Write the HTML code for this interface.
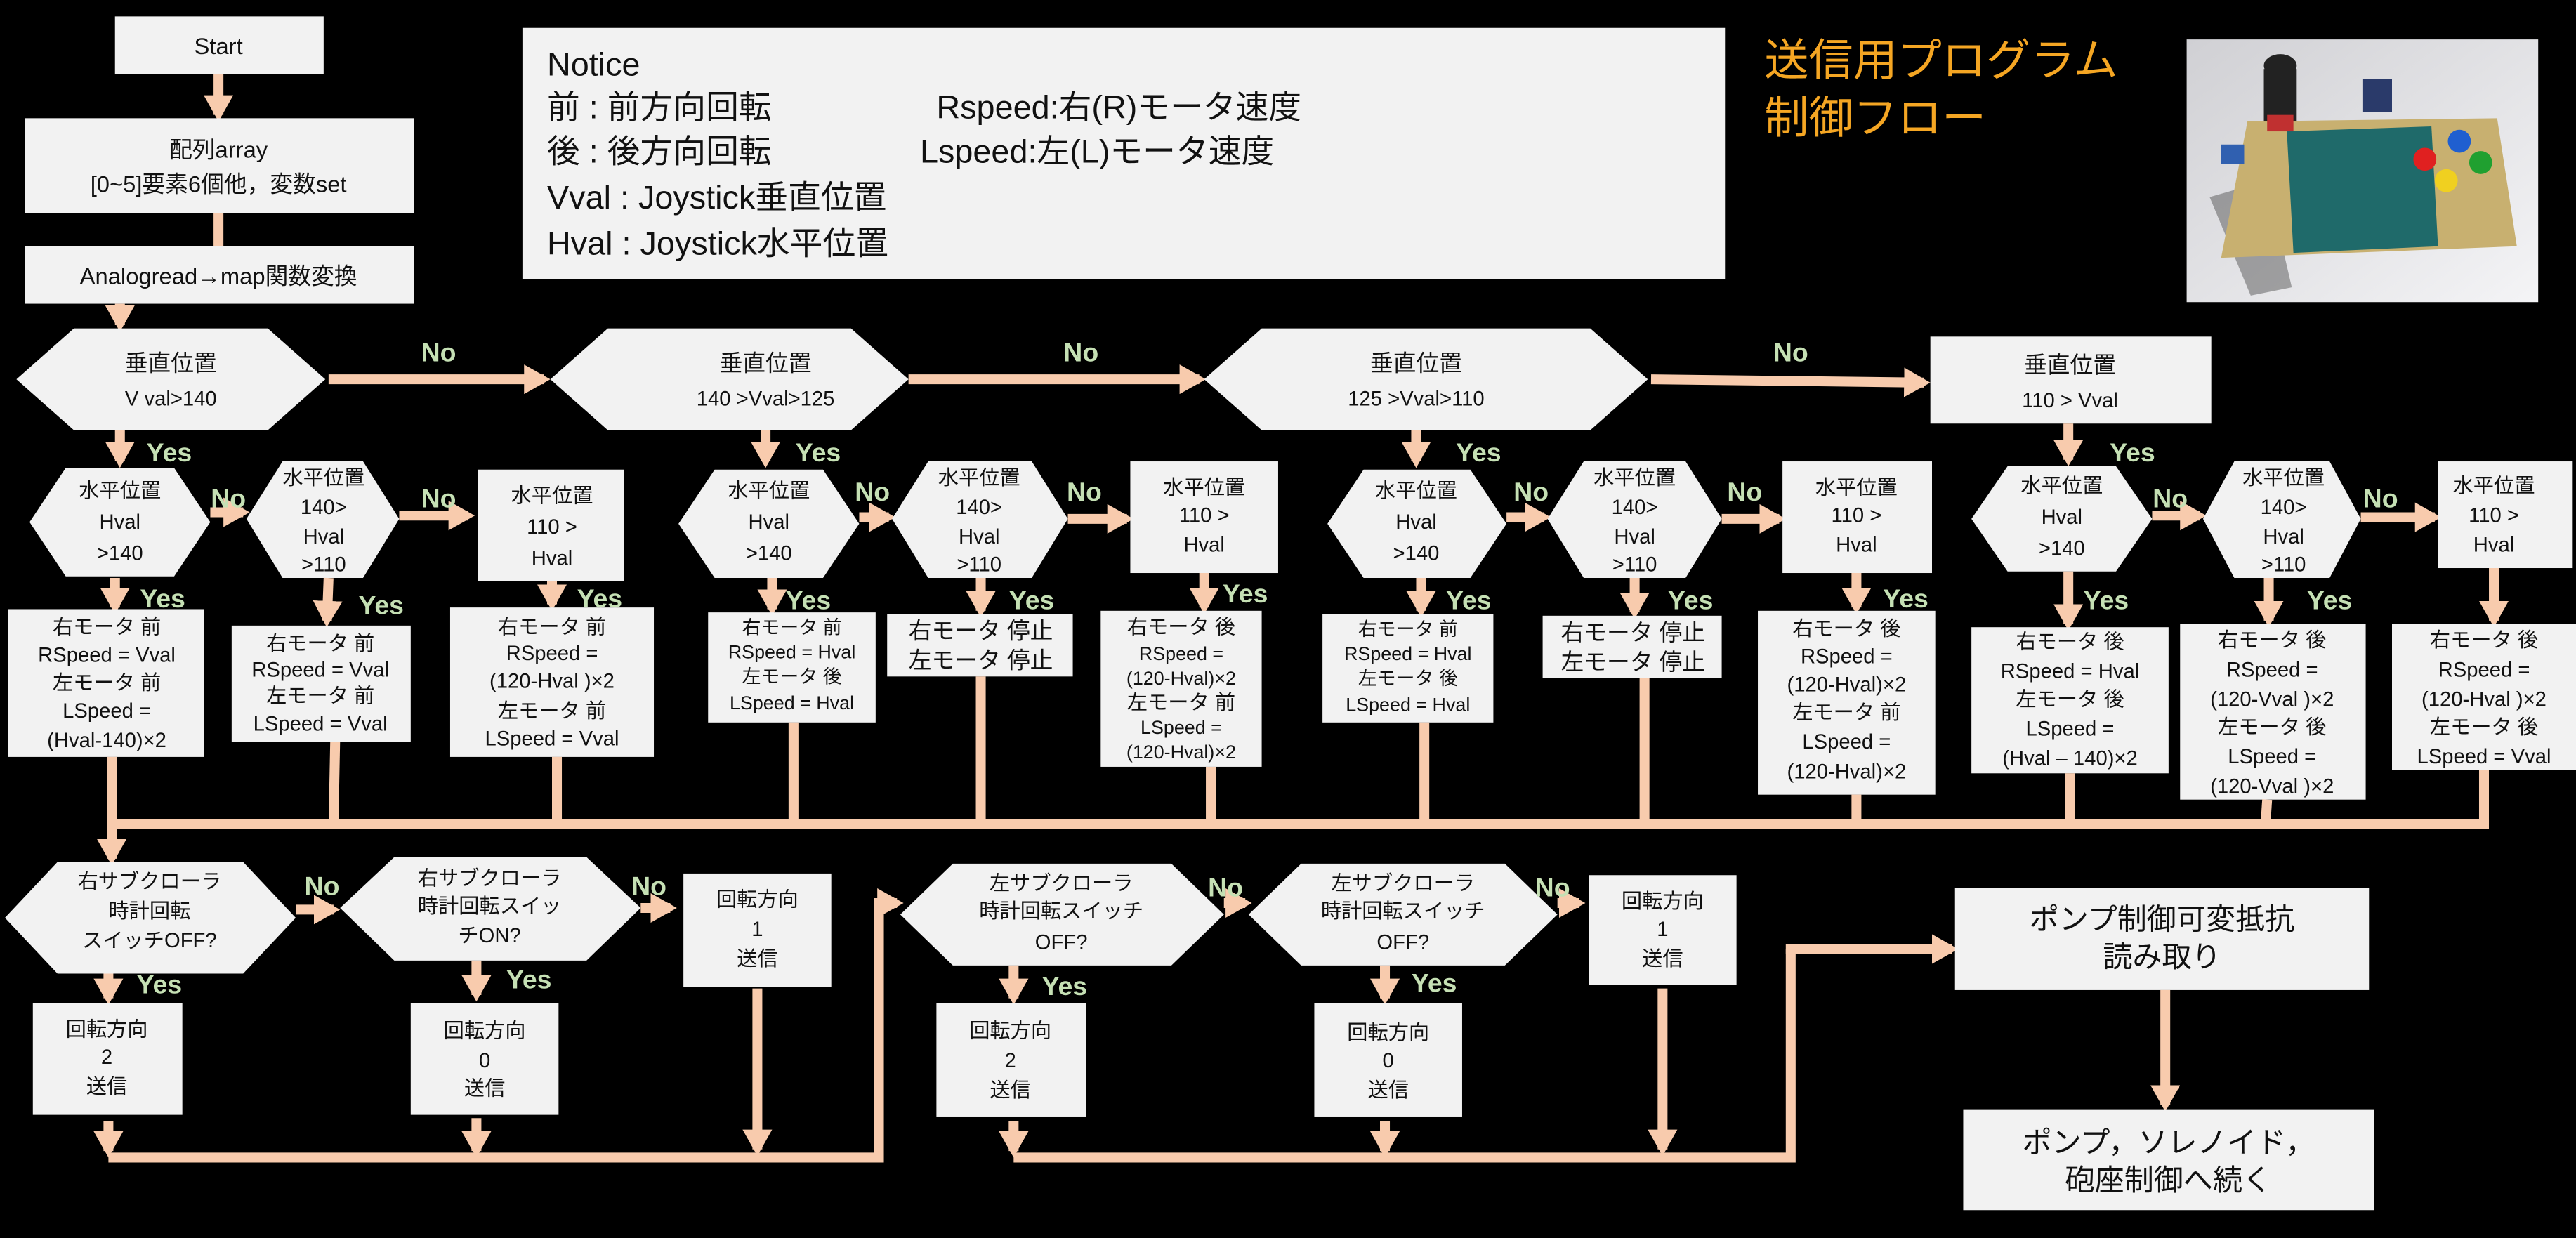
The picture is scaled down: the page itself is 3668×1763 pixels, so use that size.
<!DOCTYPE html>
<html><head><meta charset="utf-8"><style>
html,body{margin:0;padding:0;background:#000;}
svg{display:block;}
text{font-family:"Liberation Sans","Noto Sans CJK JP",sans-serif;fill:#111;}
.yn{font-weight:bold;fill:#c5e0b4;font-size:16px;}
.b{fill:#f2f2f2;}
.l{stroke:#f8cbad;stroke-width:6;fill:none;}
.la{stroke:#f8cbad;stroke-width:6;fill:none;marker-end:url(#a);}
.t13{font-size:12.5px;}
.t14{font-size:14px;}
</style></head><body>
<svg width="3668" height="1763" viewBox="0 0 1568 754" preserveAspectRatio="none" xmlns="http://www.w3.org/2000/svg">
<defs>
<marker id="a" markerWidth="20" markerHeight="20" refX="12" refY="9" orient="auto" markerUnits="userSpaceOnUse"><path d="M0,0 L16,9 L0,18 Z" fill="#f8cbad"/></marker>
<linearGradient id="pg" x1="0" y1="0" x2="1" y2="1"><stop offset="0" stop-color="#d0d0d4"/><stop offset="1" stop-color="#f4f4f6"/></linearGradient>
</defs>
<rect width="1568" height="754" fill="#000"/>

<!-- top boxes -->
<rect class="b" x="70" y="10" width="127" height="35"/>
<text x="133" y="33" text-anchor="middle" class="t14">Start</text>
<line class="la" x1="133" y1="45" x2="133" y2="70"/>
<rect class="b" x="15" y="72" width="237" height="58"/>
<text x="133" y="96" text-anchor="middle" class="t14">配列array</text>
<text x="133" y="117" text-anchor="middle" class="t14">[0~5]要素6個他，変数set</text>
<line class="l" x1="133" y1="130" x2="133" y2="150"/>
<rect class="b" x="15" y="150" width="237" height="35"/>
<text x="133" y="173" text-anchor="middle" class="t14">Analogread→map関数変換</text>
<line class="la" x1="73" y1="185" x2="73" y2="198"/>

<!-- notice -->
<rect class="b" x="318" y="17" width="732" height="153"/>
<text x="333" y="46" style="font-size:20px">Notice</text>
<text x="333" y="72" style="font-size:20px">前 : 前方向回転</text>
<text x="570" y="72" style="font-size:20px">Rspeed:右(R)モータ速度</text>
<text x="333" y="99" style="font-size:20px">後 : 後方向回転</text>
<text x="560" y="99" style="font-size:20px">Lspeed:左(L)モータ速度</text>
<text x="333" y="127" style="font-size:20px">Vval : Joystick垂直位置</text>
<text x="333" y="155" style="font-size:20px">Hval : Joystick水平位置</text>
<text x="1074" y="46" style="font-size:27px;fill:#f5a623">送信用プログラム</text>
<text x="1074" y="81" style="font-size:27px;fill:#f5a623">制御フロー</text>

<!-- photo -->
<rect x="1331" y="24" width="214" height="160" fill="url(#pg)"/>
<polygon points="1345,120 1370,180 1395,175 1380,110" fill="#555" opacity="0.5"/>
<polygon points="1368,74 1520,72 1532,150 1352,157" fill="#c8b070"/>
<polygon points="1392,80 1480,77 1484,150 1396,154" fill="#1f6a6a"/>
<ellipse cx="1388" cy="40" rx="10" ry="7" fill="#222"/>
<rect x="1378" y="42" width="20" height="32" fill="#222"/>
<rect x="1380" y="70" width="16" height="10" fill="#c03030"/>
<rect x="1438" y="48" width="18" height="20" fill="#2a3a6a"/>
<circle cx="1497" cy="86" r="7" fill="#1f5fd0"/>
<circle cx="1476" cy="97" r="7" fill="#e02020"/>
<circle cx="1510" cy="99" r="7" fill="#20a030"/>
<circle cx="1489" cy="110" r="7" fill="#f0d020"/>
<rect x="1352" y="88" width="14" height="12" fill="#3060b0"/>

<!-- row1 -->
<polygon class="b" points="45,200 163,200 198,231 163,262 45,262 10,231"/>
<text x="104" y="226" text-anchor="middle" class="t14">垂直位置</text>
<text x="104" y="247" text-anchor="middle" class="t13">V val&gt;140</text>
<line class="la" x1="200" y1="231" x2="331" y2="231"/>
<text x="267" y="220" text-anchor="middle" class="yn">No</text>
<polygon class="b" points="370,200 518,200 553,231 518,262 370,262 335,231"/>
<text x="466" y="226" text-anchor="middle" class="t14">垂直位置</text>
<text x="466" y="247" text-anchor="middle" class="t13">140 &gt;Vval&gt;125</text>
<line class="la" x1="553" y1="231" x2="730" y2="231"/>
<text x="658" y="220" text-anchor="middle" class="yn">No</text>
<polygon class="b" points="768,200 968,200 1003,231 968,262 768,262 733,231"/>
<text x="862" y="226" text-anchor="middle" class="t14">垂直位置</text>
<text x="862" y="247" text-anchor="middle" class="t13">125 &gt;Vval&gt;110</text>
<line class="la" x1="1005" y1="231" x2="1171" y2="233"/>
<text x="1090" y="220" text-anchor="middle" class="yn">No</text>
<rect class="b" x="1175" y="205" width="171" height="53"/>
<text x="1260" y="227" text-anchor="middle" class="t14">垂直位置</text>
<text x="1260" y="248" text-anchor="middle" class="t13">110 &gt; Vval</text>

<!-- yes down from row1 -->
<line class="la" x1="73" y1="262" x2="73" y2="281"/><text x="103" y="281" text-anchor="middle" class="yn">Yes</text>
<line class="la" x1="466" y1="262" x2="466" y2="281"/><text x="498" y="281" text-anchor="middle" class="yn">Yes</text>
<line class="la" x1="862" y1="262" x2="862" y2="281"/><text x="900" y="281" text-anchor="middle" class="yn">Yes</text>
<line class="la" x1="1259" y1="258" x2="1259" y2="280"/><text x="1298" y="281" text-anchor="middle" class="yn">Yes</text>

<g class="t13">
<!-- G1 -->
<polygon class="b" points="40,285 106,285 128,318 106,351 40,351 18,318"/>
<text x="73" y="303" text-anchor="middle">水平位置</text><text x="73" y="322" text-anchor="middle">Hval</text><text x="73" y="341" text-anchor="middle">&gt;140</text>
<line class="la" x1="128" y1="312" x2="148" y2="312"/><text x="139" y="309" text-anchor="middle" class="yn">No</text>
<polygon class="b" points="172,281 221,281 243,316 221,352 172,352 150,316"/>
<text x="197" y="295" text-anchor="middle">水平位置</text><text x="197" y="313" text-anchor="middle">140&gt;</text><text x="197" y="331" text-anchor="middle">Hval</text><text x="197" y="348" text-anchor="middle">&gt;110</text>
<line class="la" x1="243" y1="314" x2="285" y2="314"/><text x="267" y="309" text-anchor="middle" class="yn">No</text>
<rect class="b" x="291" y="286" width="89" height="68"/>
<text x="336" y="306" text-anchor="middle">水平位置</text><text x="336" y="325" text-anchor="middle">110 &gt;</text><text x="336" y="344" text-anchor="middle">Hval</text>

<line class="la" x1="70" y1="352" x2="70" y2="370"/><text x="99" y="370" text-anchor="middle" class="yn">Yes</text>
<line class="la" x1="200" y1="352" x2="199" y2="378"/><text x="232" y="374" text-anchor="middle" class="yn">Yes</text>
<line class="la" x1="336" y1="354" x2="336" y2="368"/><text x="365" y="370" text-anchor="middle" class="yn">Yes</text>

<rect class="b" x="5" y="371" width="119" height="90"/>
<text x="65" y="386" text-anchor="middle">右モータ 前</text><text x="65" y="403" text-anchor="middle">RSpeed = Vval</text><text x="65" y="420" text-anchor="middle">左モータ 前</text><text x="65" y="437" text-anchor="middle">LSpeed =</text><text x="65" y="455" text-anchor="middle">(Hval-140)×2</text>
<rect class="b" x="141" y="381" width="109" height="71"/>
<text x="195" y="396" text-anchor="middle">右モータ 前</text><text x="195" y="412" text-anchor="middle">RSpeed = Vval</text><text x="195" y="428" text-anchor="middle">左モータ 前</text><text x="195" y="445" text-anchor="middle">LSpeed = Vval</text>
<rect class="b" x="274" y="370" width="124" height="91"/>
<text x="336" y="386" text-anchor="middle">右モータ 前</text><text x="336" y="402" text-anchor="middle">RSpeed =</text><text x="336" y="419" text-anchor="middle">(120-Hval )×2</text><text x="336" y="437" text-anchor="middle">左モータ 前</text><text x="336" y="454" text-anchor="middle">LSpeed = Vval</text>

<!-- G2 -->
<polygon class="b" points="435,286 501,286 523,319 501,352 435,352 413,319"/>
<text x="468" y="303" text-anchor="middle">水平位置</text><text x="468" y="322" text-anchor="middle">Hval</text><text x="468" y="341" text-anchor="middle">&gt;140</text>
<line class="la" x1="523" y1="315" x2="541" y2="315"/><text x="531" y="305" text-anchor="middle" class="yn">No</text>
<polygon class="b" points="565,281 628,281 650,316 628,352 565,352 543,316"/>
<text x="596" y="295" text-anchor="middle">水平位置</text><text x="596" y="313" text-anchor="middle">140&gt;</text><text x="596" y="331" text-anchor="middle">Hval</text><text x="596" y="348" text-anchor="middle">&gt;110</text>
<line class="la" x1="650" y1="316" x2="686" y2="316"/><text x="660" y="305" text-anchor="middle" class="yn">No</text>
<rect class="b" x="688" y="281" width="90" height="68"/>
<text x="733" y="301" text-anchor="middle">水平位置</text><text x="733" y="318" text-anchor="middle">110 &gt;</text><text x="733" y="336" text-anchor="middle">Hval</text>

<line class="la" x1="470" y1="352" x2="470" y2="371"/><text x="492" y="371" text-anchor="middle" class="yn">Yes</text>
<line class="la" x1="597" y1="352" x2="597" y2="372"/><text x="628" y="371" text-anchor="middle" class="yn">Yes</text>
<line class="la" x1="733" y1="349" x2="733" y2="370"/><text x="758" y="367" text-anchor="middle" class="yn">Yes</text>

<rect class="b" x="431" y="373" width="102" height="67"/>
<text x="482" y="386" text-anchor="middle" style="font-size:11.5px">右モータ 前</text><text x="482" y="401" text-anchor="middle" style="font-size:11.5px">RSpeed = Hval</text><text x="482" y="416" text-anchor="middle" style="font-size:11.5px">左モータ 後</text><text x="482" y="432" text-anchor="middle" style="font-size:11.5px">LSpeed = Hval</text>
<rect class="b" x="540" y="374" width="113" height="38"/>
<text x="597" y="389" text-anchor="middle" class="t14">右モータ 停止</text><text x="597" y="407" text-anchor="middle" class="t14">左モータ 停止</text>
<rect class="b" x="670" y="372" width="98" height="95"/>
<text x="719" y="386" text-anchor="middle">右モータ 後</text><text x="719" y="402" text-anchor="middle" style="font-size:11.5px">RSpeed =</text><text x="719" y="417" text-anchor="middle" style="font-size:11.5px">(120-Hval)×2</text><text x="719" y="432" text-anchor="middle">左モータ 前</text><text x="719" y="447" text-anchor="middle" style="font-size:11.5px">LSpeed =</text><text x="719" y="462" text-anchor="middle" style="font-size:11.5px">(120-Hval)×2</text>

<!-- G3 -->
<polygon class="b" points="830,286 895,286 917,319 895,352 830,352 808,319"/>
<text x="862" y="303" text-anchor="middle">水平位置</text><text x="862" y="322" text-anchor="middle">Hval</text><text x="862" y="341" text-anchor="middle">&gt;140</text>
<line class="la" x1="917" y1="315" x2="940" y2="315"/><text x="932" y="305" text-anchor="middle" class="yn">No</text>
<polygon class="b" points="964,281 1026,281 1048,316 1026,352 964,352 942,316"/>
<text x="995" y="295" text-anchor="middle">水平位置</text><text x="995" y="313" text-anchor="middle">140&gt;</text><text x="995" y="331" text-anchor="middle">Hval</text><text x="995" y="348" text-anchor="middle">&gt;110</text>
<line class="la" x1="1048" y1="316" x2="1083" y2="316"/><text x="1062" y="305" text-anchor="middle" class="yn">No</text>
<rect class="b" x="1085" y="281" width="91" height="68"/>
<text x="1130" y="301" text-anchor="middle">水平位置</text><text x="1130" y="318" text-anchor="middle">110 &gt;</text><text x="1130" y="336" text-anchor="middle">Hval</text>

<line class="la" x1="865" y1="352" x2="865" y2="372"/><text x="894" y="371" text-anchor="middle" class="yn">Yes</text>
<line class="la" x1="995" y1="352" x2="995" y2="373"/><text x="1029" y="371" text-anchor="middle" class="yn">Yes</text>
<line class="la" x1="1130" y1="349" x2="1130" y2="370"/><text x="1160" y="370" text-anchor="middle" class="yn">Yes</text>

<rect class="b" x="805" y="374" width="104" height="66"/>
<text x="857" y="387" text-anchor="middle" style="font-size:11.5px">右モータ 前</text><text x="857" y="402" text-anchor="middle" style="font-size:11.5px">RSpeed = Hval</text><text x="857" y="417" text-anchor="middle" style="font-size:11.5px">左モータ 後</text><text x="857" y="433" text-anchor="middle" style="font-size:11.5px">LSpeed = Hval</text>
<rect class="b" x="939" y="375" width="109" height="38"/>
<text x="994" y="390" text-anchor="middle" class="t14">右モータ 停止</text><text x="994" y="408" text-anchor="middle" class="t14">左モータ 停止</text>
<rect class="b" x="1070" y="372" width="108" height="112"/>
<text x="1124" y="387" text-anchor="middle">右モータ 後</text><text x="1124" y="404" text-anchor="middle">RSpeed =</text><text x="1124" y="421" text-anchor="middle">(120-Hval)×2</text><text x="1124" y="438" text-anchor="middle">左モータ 前</text><text x="1124" y="456" text-anchor="middle">LSpeed =</text><text x="1124" y="474" text-anchor="middle">(120-Hval)×2</text>

<!-- G4 -->
<polygon class="b" points="1222,284 1288,284 1310,316 1288,348 1222,348 1200,316"/>
<text x="1255" y="300" text-anchor="middle">水平位置</text><text x="1255" y="319" text-anchor="middle">Hval</text><text x="1255" y="338" text-anchor="middle">&gt;140</text>
<line class="la" x1="1310" y1="314" x2="1339" y2="314"/><text x="1321" y="309" text-anchor="middle" class="yn">No</text>
<polygon class="b" points="1360,281 1418,281 1437,316 1418,352 1360,352 1341,316"/>
<text x="1390" y="295" text-anchor="middle">水平位置</text><text x="1390" y="313" text-anchor="middle">140&gt;</text><text x="1390" y="331" text-anchor="middle">Hval</text><text x="1390" y="348" text-anchor="middle">&gt;110</text>
<line class="la" x1="1437" y1="315" x2="1482" y2="315"/><text x="1449" y="309" text-anchor="middle" class="yn">No</text>
<rect class="b" x="1484" y="281" width="82" height="65"/>
<text x="1518" y="300" text-anchor="middle">水平位置</text><text x="1518" y="318" text-anchor="middle">110 &gt;</text><text x="1518" y="336" text-anchor="middle">Hval</text>

<line class="la" x1="1259" y1="348" x2="1259" y2="380"/><text x="1282" y="371" text-anchor="middle" class="yn">Yes</text>
<line class="la" x1="1381" y1="352" x2="1381" y2="378"/><text x="1418" y="371" text-anchor="middle" class="yn">Yes</text>
<line class="la" x1="1518" y1="346" x2="1518" y2="378"/>

<rect class="b" x="1200" y="382" width="120" height="89"/>
<text x="1260" y="395" text-anchor="middle">右モータ 後</text><text x="1260" y="413" text-anchor="middle">RSpeed = Hval</text><text x="1260" y="430" text-anchor="middle">左モータ 後</text><text x="1260" y="448" text-anchor="middle">LSpeed =</text><text x="1260" y="466" text-anchor="middle">(Hval – 140)×2</text>
<rect class="b" x="1327" y="380" width="113" height="107"/>
<text x="1383" y="394" text-anchor="middle">右モータ 後</text><text x="1383" y="412" text-anchor="middle">RSpeed =</text><text x="1383" y="430" text-anchor="middle">(120-Vval )×2</text><text x="1383" y="447" text-anchor="middle">左モータ 後</text><text x="1383" y="465" text-anchor="middle">LSpeed =</text><text x="1383" y="483" text-anchor="middle">(120-Vval )×2</text>
<rect class="b" x="1456" y="380" width="112" height="89"/>
<text x="1512" y="394" text-anchor="middle">右モータ 後</text><text x="1512" y="412" text-anchor="middle">RSpeed =</text><text x="1512" y="430" text-anchor="middle">(120-Hval )×2</text><text x="1512" y="447" text-anchor="middle">左モータ 後</text><text x="1512" y="465" text-anchor="middle">LSpeed = Vval</text>
</g>

<!-- bus -->
<line class="l" x1="65" y1="502" x2="1515" y2="502"/>
<line class="l" x1="68" y1="461" x2="68" y2="502"/>
<line class="l" x1="204" y1="452" x2="203" y2="502"/>
<line class="l" x1="339" y1="461" x2="339" y2="502"/>
<line class="l" x1="483" y1="440" x2="483" y2="502"/>
<line class="l" x1="597" y1="412" x2="597" y2="502"/>
<line class="l" x1="737" y1="467" x2="737" y2="502"/>
<line class="l" x1="867" y1="440" x2="867" y2="502"/>
<line class="l" x1="1001" y1="413" x2="1001" y2="502"/>
<line class="l" x1="1130" y1="484" x2="1130" y2="502"/>
<line class="l" x1="1260" y1="471" x2="1260" y2="502"/>
<line class="l" x1="1380" y1="487" x2="1379" y2="502"/>
<line class="l" x1="1512" y1="469" x2="1512" y2="502"/>
<line class="la" x1="68" y1="502" x2="68" y2="523"/>

<!-- row4 left -->
<g class="t13">
<polygon class="b" points="35,525 148,525 180,559 148,593 35,593 3,559"/>
<text x="91" y="541" text-anchor="middle">右サブクローラ</text><text x="91" y="559" text-anchor="middle">時計回転</text><text x="91" y="577" text-anchor="middle">スイッチOFF?</text>
<line class="la" x1="180" y1="554" x2="203" y2="554"/><text x="196" y="545" text-anchor="middle" class="yn">No</text>
<polygon class="b" points="240,522 357,522 390,553 357,585 240,585 207,553"/>
<text x="298" y="539" text-anchor="middle">右サブクローラ</text><text x="298" y="556" text-anchor="middle">時計回転スイッ</text><text x="298" y="574" text-anchor="middle">チON?</text>
<line class="la" x1="390" y1="553" x2="408" y2="553"/><text x="395" y="545" text-anchor="middle" class="yn">No</text>
<rect class="b" x="416" y="532" width="90" height="69"/>
<text x="461" y="552" text-anchor="middle">回転方向</text><text x="461" y="570" text-anchor="middle">1</text><text x="461" y="588" text-anchor="middle">送信</text>
<line class="la" x1="66" y1="593" x2="66" y2="608"/><text x="97" y="605" text-anchor="middle" class="yn">Yes</text>
<line class="la" x1="290" y1="585" x2="290" y2="606"/><text x="322" y="602" text-anchor="middle" class="yn">Yes</text>
<rect class="b" x="20" y="611" width="91" height="68"/>
<text x="65" y="631" text-anchor="middle">回転方向</text><text x="65" y="648" text-anchor="middle">2</text><text x="65" y="666" text-anchor="middle">送信</text>
<rect class="b" x="250" y="611" width="90" height="68"/>
<text x="295" y="632" text-anchor="middle">回転方向</text><text x="295" y="650" text-anchor="middle">0</text><text x="295" y="667" text-anchor="middle">送信</text>
<line class="la" x1="66" y1="683" x2="66" y2="701"/>
<line class="la" x1="290" y1="681" x2="290" y2="701"/>
<line class="la" x1="461" y1="602" x2="461" y2="700"/>
<polyline class="l" points="66,705 535,705 535,550"/>
<line class="la" x1="532" y1="550" x2="546" y2="550"/>

<!-- row4 middle -->
<polygon class="b" points="580,526 713,526 745,557 713,588 580,588 548,557"/>
<text x="646" y="542" text-anchor="middle">左サブクローラ</text><text x="646" y="559" text-anchor="middle">時計回転スイッチ</text><text x="646" y="578" text-anchor="middle">OFF?</text>
<line class="la" x1="745" y1="550" x2="758" y2="550"/><text x="746" y="546" text-anchor="middle" class="yn">No</text>
<polygon class="b" points="792,526 916,526 948,557 916,588 792,588 760,557"/>
<text x="854" y="542" text-anchor="middle">左サブクローラ</text><text x="854" y="559" text-anchor="middle">時計回転スイッチ</text><text x="854" y="578" text-anchor="middle">OFF?</text>
<line class="la" x1="948" y1="550" x2="961" y2="550"/><text x="945" y="546" text-anchor="middle" class="yn">No</text>
<rect class="b" x="967" y="533" width="90" height="67"/>
<text x="1012" y="553" text-anchor="middle">回転方向</text><text x="1012" y="570" text-anchor="middle">1</text><text x="1012" y="588" text-anchor="middle">送信</text>
<line class="la" x1="617" y1="588" x2="617" y2="608"/><text x="648" y="606" text-anchor="middle" class="yn">Yes</text>
<line class="la" x1="843" y1="588" x2="843" y2="608"/><text x="873" y="604" text-anchor="middle" class="yn">Yes</text>
<rect class="b" x="570" y="611" width="91" height="69"/>
<text x="615" y="632" text-anchor="middle">回転方向</text><text x="615" y="650" text-anchor="middle">2</text><text x="615" y="668" text-anchor="middle">送信</text>
<rect class="b" x="800" y="611" width="90" height="69"/>
<text x="845" y="633" text-anchor="middle">回転方向</text><text x="845" y="650" text-anchor="middle">0</text><text x="845" y="668" text-anchor="middle">送信</text>
<line class="la" x1="617" y1="683" x2="617" y2="701"/>
<line class="la" x1="843" y1="683" x2="843" y2="701"/>
<line class="la" x1="1012" y1="602" x2="1012" y2="700"/>
<polyline class="l" points="617,705 1090,705 1090,578"/>
<line class="la" x1="1087" y1="578" x2="1188" y2="578"/>
</g>

<!-- right -->
<rect class="b" x="1190" y="541" width="252" height="62"/>
<text x="1316" y="566" text-anchor="middle" style="font-size:18px">ポンプ制御可変抵抗</text>
<text x="1316" y="589" text-anchor="middle" style="font-size:18px">読み取り</text>
<line class="la" x1="1318" y1="603" x2="1318" y2="673"/>
<rect class="b" x="1195" y="676" width="250" height="61"/>
<text x="1320" y="702" text-anchor="middle" style="font-size:18px">ポンプ，ソレノイド，</text>
<text x="1320" y="725" text-anchor="middle" style="font-size:18px">砲座制御へ続く</text>
</svg>
</body></html>
